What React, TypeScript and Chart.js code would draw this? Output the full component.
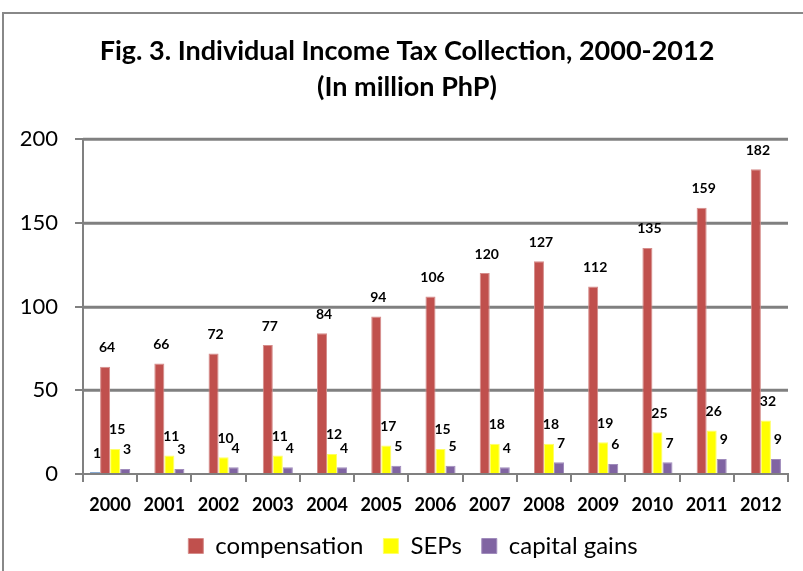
import React, { useEffect, useRef } from "react";
import { Chart, registerables } from "chart.js";

Chart.register(...registerables);

const years = ["2000","2001","2002","2003","2004","2005","2006","2007","2008","2009","2010","2011","2012"];
const other = [1, null, null, null, null, null, null, null, null, null, null, null, null];
const compensation = [64, 66, 72, 77, 84, 94, 106, 120, 127, 112, 135, 159, 182];
const seps = [15, 11, 10, 11, 12, 17, 15, 18, 18, 19, 25, 26, 32];
const capitalGains = [3, 3, 4, 4, 4, 5, 5, 4, 7, 6, 7, 9, 9];
const yTicks = [0, 50, 100, 150, 200];
const titleLines = ["Fig. 3. Individual Income Tax Collection, 2000-2012", "(In million PhP)"];

const FONT = "Lato, 'Open Sans', sans-serif";
const GRID = "#808080";

const labelPlugin = {
  id: "barLabels",
  afterDatasetsDraw(chart: any) {
    const ctx = chart.ctx;
    ctx.save();
    ctx.font = `bold 14px ${FONT}`;
    ctx.fillStyle = "#000";
    ctx.textAlign = "center";
    ctx.textBaseline = "middle";
    chart.data.datasets.forEach((ds: any, di: number) => {
      const meta = chart.getDatasetMeta(di);
      meta.data.forEach((bar: any, i: number) => {
        const v = ds.data[i];
        if (v === null || v === undefined) return;
        ctx.fillText(String(v), bar.x + 2, bar.y - 19);
      });
    });
    ctx.restore();
  },
};

const gridPlugin = {
  id: "hGrid",
  beforeDatasetsDraw(chart: any) {
    const ctx = chart.ctx;
    const y = chart.scales.y;
    const area = chart.chartArea;
    ctx.save();
    ctx.strokeStyle = GRID;
    ctx.lineWidth = 3;
    yTicks.forEach((v) => {
      if (v === 0) return;
      const py = Math.round(y.getPixelForValue(v)) + 0.25;
      ctx.beginPath();
      ctx.moveTo(area.left, py);
      ctx.lineTo(area.right, py);
      ctx.stroke();
    });
    ctx.restore();
  },
};

const borderPlugin = {
  id: "outerBorder",
  beforeDraw(chart: any) {
    const ctx = chart.ctx;
    ctx.save();
    ctx.fillStyle = "#fff";
    ctx.fillRect(0, 0, chart.width, chart.height);
    ctx.strokeStyle = "#888888";
    ctx.lineWidth = 2;
    ctx.strokeRect(3, 13, 900, 700);
    ctx.restore();
  },
};

const shiftPlugin = {
  id: "shiftBoxes",
  afterLayout(chart: any) {
    if (chart.legend) {
      chart.legend.left += 19;
      chart.legend.right += 19;
    }
    if (chart.titleBlock) {
      chart.titleBlock.left += 13;
      chart.titleBlock.right += 13;
    }
  },
};

export default function App() {
  const ref = useRef<HTMLCanvasElement | null>(null);
  useEffect(() => {
    document.body.style.margin = "0";
    const canvas = ref.current!;
    const chart = new Chart(canvas, {
      type: "bar",
      data: {
        labels: years,
        datasets: [
          { label: "other", data: other, backgroundColor: "#4F81BD", borderColor: "#4F81BD", borderWidth: 0 },
          { label: "compensation", data: compensation, backgroundColor: "#C0504D", borderColor: "#D58C8A", borderWidth: 1 },
          { label: "SEPs", data: seps, backgroundColor: "#FFFF00", borderColor: "#FFFF66", borderWidth: 1 },
          { label: "capital gains", data: capitalGains, backgroundColor: "#8064A2", borderColor: "#A08CBC", borderWidth: 1 },
        ],
      },
      options: {
        animation: false,
        responsive: false,
        maintainAspectRatio: false,
        datasets: { bar: { categoryPercentage: 0.74, barPercentage: 1.0 } },
        layout: { padding: { left: 0, right: 15, top: 0, bottom: 3 } },
        plugins: {
          title: {
            display: true,
            text: titleLines,
            color: "#000",
            font: { family: FONT, size: 27, weight: "bold", lineHeight: 36 / 27 },
            padding: { top: 33, bottom: 34 },
          },
          legend: {
            display: true,
            position: "bottom",
            labels: {
              filter: (item: any) => item.text !== "other",
              boxWidth: 15,
              boxHeight: 15,
              color: "#000",
              padding: 20,
              font: { family: FONT, size: 24 },
            },
          },
          tooltip: { enabled: false },
        },
        scales: {
          x: {
            afterFit: (s: any) => { s.height = 40; },
            grid: { display: true, drawOnChartArea: false, drawTicks: true, tickLength: 8, color: GRID, lineWidth: 2, offset: true },
            border: { display: true, color: GRID, width: 2 },
            ticks: { color: "#000", font: { family: FONT, size: 18, weight: "bold" }, padding: 12, maxRotation: 0 },
          },
          y: {
            min: 0,
            max: 200,
            afterFit: (s: any) => { s.width = 83; },
            afterBuildTicks: (s: any) => { s.ticks = yTicks.map((v) => ({ value: v })); },
            grid: { display: true, drawOnChartArea: false, color: GRID, lineWidth: 2, tickLength: 8, drawTicks: true },
            border: { display: true, color: GRID, width: 2 },
            ticks: { color: "#000", font: { family: FONT, size: 22 }, padding: 17 },
          },
        },
      },
      plugins: [labelPlugin, gridPlugin, borderPlugin, shiftPlugin],
    } as any);
    return () => chart.destroy();
  }, []);
  return (
    <div style={{ position: "relative", width: 803, height: 571 }}>
      <canvas ref={ref} width={803} height={571} style={{ display: "block", width: 803, height: 571 }} />
    </div>
  );
}
